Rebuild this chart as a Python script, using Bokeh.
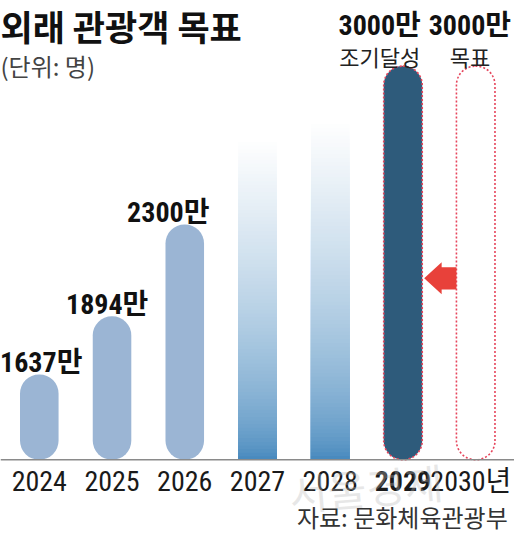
import numpy as np
from bokeh.plotting import figure
from bokeh.models import Range1d, Span, Label, ColumnDataSource
from bokeh.core.properties import value
from bokeh.embed import file_html
from bokeh.resources import INLINE

# ---------------- data ----------------
years = [2024, 2025, 2026, 2027, 2028, 2029, 2030]
tick_labels = ["2024", "2025", "2026", "2027", "2028", "2029", "2030년"]
tick_bold = [False, False, False, False, False, True, False]

actual_years = [2024, 2025, 2026]
actual_values = [1637, 1894, 2300]
actual_labels = ["1637만", "1894만", "2300만"]

projected_years = [2027, 2028]
projected_fade_top = [2680, 2760]

target_years = [2029, 2030]
target_values = [3000, 3000]
target_labels = ["3000만", "3000만"]
target_notes = ["조기달성", "목표"]

baseline = 1260  # visual baseline of the truncated value axis (만 명)

# ---------------- layout / style ----------------
W, H = 514, 535
f = W / 530.0                 # scale from 530-px design to figure
px_per_year = 75.0            # design pixels per category step
px_per_unit = 0.233           # design pixels per 만 명
bar_w = 0.53
NARROW = "'Roboto Condensed', 'Liberation Sans Narrow', 'DejaVu Sans Condensed', 'Noto Sans CJK KR', sans-serif"
KR = "'Noto Sans CJK KR', sans-serif"

x0 = years[0] - 40 / px_per_year
x1 = years[0] + 490 / px_per_year
y0 = baseline - 78 / px_per_unit
y1 = baseline + 473 / px_per_unit

p = figure(width=W, height=H, x_range=Range1d(x0, x1), y_range=Range1d(y0, y1),
           output_backend="svg", toolbar_location=None, min_border=0,
           background_fill_color="white", border_fill_color="white")
p.xaxis.visible = False
p.yaxis.visible = False
p.grid.visible = False
p.outline_line_color = None

# watermark
p.add_layout(Label(x=300 * f, y=(551 - 538) * f, x_units="screen", y_units="screen",
                   text="서울경제", text_font=KR, text_font_size=f"{int(44*f)}px",
                   text_color="#bbbbbb", text_alpha=0.35, angle=0.08))

# actual bars
p.vbar(x=actual_years, top=actual_values, bottom=baseline, width=bar_w,
       fill_color="#9bb5d4", line_color=None, border_radius=int(20 * f))

# projected gradient bars (white at top -> blue at bottom)
bottom_rgb = np.array([60, 130, 186])
white = np.array([255, 255, 255])
gx, gtop, gcol = [], [], []
N = 90
for yr, ft in zip(projected_years, projected_fade_top):
    for i in range(N):
        h = 1 - i / N
        lvl = baseline + (ft - baseline) * h
        w = h ** 0.6
        c = (bottom_rgb + (white - bottom_rgb) * w).astype(int)
        gx.append(yr)
        gtop.append(lvl)
        gcol.append("#%02x%02x%02x" % tuple(c))
p.vbar(x=gx, top=gtop, bottom=baseline, width=bar_w, fill_color=gcol, line_color=None)

# early-achievement bar
p.vbar(x=target_years[:1], top=target_values[:1], bottom=baseline, width=bar_w,
       fill_color="#2e5b7b", line_color=None, border_radius=int(20 * f))
# dashed red outlines
p.vbar(x=target_years, top=target_values, bottom=baseline, width=bar_w,
       fill_color=None, line_color="#e6455c", line_dash="2 2", line_width=1.6,
       border_radius=int(20 * f))

# arrow (tip at 2029 bar, tail at 2030 outline)
arrow_level = 2062
tip = target_years[0] + bar_w / 2 + 2 / px_per_year
head = tip + 18 / px_per_year
tail = target_years[1] - bar_w / 2
hh = 16.5 / px_per_unit
sh = 11.5 / px_per_unit
p.patch(x=[tip, head, head, tail, tail, head, head],
        y=[arrow_level, arrow_level + hh, arrow_level + sh, arrow_level + sh,
           arrow_level - sh, arrow_level - sh, arrow_level - hh],
        fill_color="#e8413a", line_color=None)

# baseline
p.add_layout(Span(location=baseline, dimension="width", line_color="#8a8a8a", line_width=1.5))

# value labels
VAL_SIZE = f"{int(29*f)}px"
lsrc = ColumnDataSource(dict(x=actual_years, y=actual_values, t=actual_labels,
                             dx=[2 * f, -5 * f, -17 * f]))
p.text(x="x", y="y", text="t", x_offset="dx", y_offset=-12 * f, source=lsrc,
       text_align="center", text_baseline="alphabetic", text_font=value(NARROW),
       text_font_style="bold", text_font_size=VAL_SIZE, text_color="#111111")

tsrc = ColumnDataSource(dict(x=target_years, y=target_values, t=target_labels,
                             n=target_notes, dx=[-24 * f, -6 * f]))
p.text(x="x", y="y", text="t", x_offset="dx", y_offset=-42 * f, source=tsrc,
       text_align="center", text_baseline="alphabetic", text_font=value(NARROW),
       text_font_style="bold", text_font_size=VAL_SIZE, text_color="#111111")
p.text(x="x", y="y", text="n", x_offset="dx", y_offset=-10 * f, source=tsrc,
       text_align="center", text_baseline="alphabetic", text_font=value(KR),
       text_font_size=f"{int(23*f)}px", text_color="#222222")

# category tick labels
xsrc = ColumnDataSource(dict(x=years, t=tick_labels,
                             st=["bold" if b else "normal" for b in tick_bold],
                             dx=[0, 0, 0, 0, 0, 0, -5 * f]))
p.text(x="x", y=baseline, text="t", x_offset="dx", y_offset=22 * f, source=xsrc,
       text_align="center", text_baseline="middle", text_font=value(NARROW),
       text_font_style="st", text_font_size=f"{int(29*f)}px", text_color="#1a1a1a")

# titles and source
p.add_layout(Label(x=0, y=(551 - 25) * f, x_units="screen", y_units="screen",
                   text="외래 관광객 목표", text_font=KR, text_font_style="bold",
                   text_font_size=f"{int(37*f)}px", text_color="#111111",
                   text_baseline="middle"))
p.add_layout(Label(x=0, y=(551 - 66) * f, x_units="screen", y_units="screen",
                   text="(단위: 명)", text_font=KR,
                   text_font_size=f"{int(25*f)}px", text_color="#444444",
                   text_baseline="middle"))
p.add_layout(Label(x=523 * f, y=(551 - 531) * f, x_units="screen", y_units="screen",
                   text="자료: 문화체육관광부", text_font=KR, text_align="right",
                   text_font_size=f"{int(25*f)}px", text_color="#333333",
                   text_baseline="middle"))

open("out.html", "w").write(file_html(p, INLINE))
